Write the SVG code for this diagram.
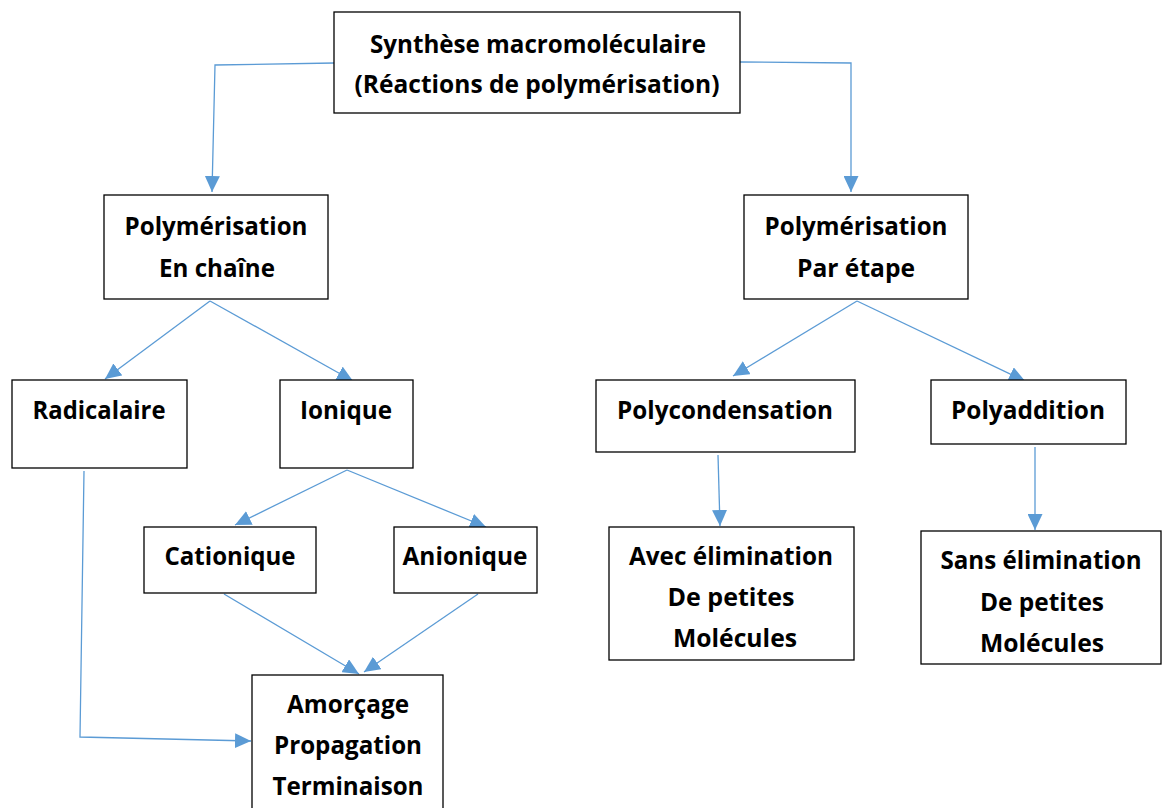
<svg xmlns="http://www.w3.org/2000/svg" width="1165" height="808" viewBox="0 0 1165 808">
<style>
.box{fill:#fff;stroke:#000;stroke-width:1.3}
.t{font-family:"Open Sans","Liberation Sans",sans-serif;font-weight:bold;font-size:24.5px;fill:#000;text-anchor:middle}
.c{fill:none;stroke:#5b9bd5;stroke-width:1.3}
</style>
<defs>
<marker id="ah" markerUnits="userSpaceOnUse" markerWidth="17" markerHeight="15" refX="16" refY="7.5" orient="auto">
<path d="M0,0 L16,7.5 L0,15 z" fill="#5b9bd5"/>
</marker>
</defs>
<rect width="1165" height="808" fill="#fff"/>
<g id="connectors">
<polyline class="c" points="334,63 215,65 212,192" marker-end="url(#ah)"/>
<polyline class="c" points="740,62 851,63 851,192" marker-end="url(#ah)"/>
<line class="c" x1="210" y1="301" x2="105" y2="379" marker-end="url(#ah)"/>
<line class="c" x1="210" y1="301" x2="353" y2="381" marker-end="url(#ah)"/>
<line class="c" x1="347" y1="470" x2="235" y2="525" marker-end="url(#ah)"/>
<line class="c" x1="347" y1="470" x2="486" y2="527" marker-end="url(#ah)"/>
<line class="c" x1="224" y1="594" x2="359" y2="674" marker-end="url(#ah)"/>
<line class="c" x1="478" y1="594" x2="364" y2="672" marker-end="url(#ah)"/>
<polyline class="c" points="84,471 80,737 251,741" marker-end="url(#ah)"/>
<line class="c" x1="857" y1="301" x2="733" y2="376" marker-end="url(#ah)"/>
<line class="c" x1="857" y1="301" x2="1025" y2="381" marker-end="url(#ah)"/>
<line class="c" x1="718" y1="455" x2="720" y2="526" marker-end="url(#ah)"/>
<line class="c" x1="1035" y1="447" x2="1035" y2="530" marker-end="url(#ah)"/>
</g>
<g id="n-synthese">
<rect class="box" x="334" y="12" width="406" height="101"/>
<text class="t" x="538" y="53" textLength="336" lengthAdjust="spacingAndGlyphs">Synthèse macromoléculaire</text>
<text class="t" x="537" y="93" textLength="365" lengthAdjust="spacingAndGlyphs">(Réactions de polymérisation)</text>
</g>
<g id="n-chaine">
<rect class="box" x="104" y="195" width="224" height="104"/>
<text class="t" x="216" y="235" textLength="183" lengthAdjust="spacingAndGlyphs">Polymérisation</text>
<text class="t" x="217" y="277" textLength="116" lengthAdjust="spacingAndGlyphs">En chaîne</text>
</g>
<g id="n-etape">
<rect class="box" x="744" y="195" width="224" height="104"/>
<text class="t" x="856" y="235" textLength="183" lengthAdjust="spacingAndGlyphs">Polymérisation</text>
<text class="t" x="856" y="277" textLength="118" lengthAdjust="spacingAndGlyphs">Par étape</text>
</g>
<g id="n-radicalaire">
<rect class="box" x="12" y="380" width="175" height="88"/>
<text class="t" x="99" y="419" textLength="133" lengthAdjust="spacingAndGlyphs">Radicalaire</text>
</g>
<g id="n-ionique">
<rect class="box" x="280" y="380" width="133" height="88"/>
<text class="t" x="346" y="419" textLength="92" lengthAdjust="spacingAndGlyphs">Ionique</text>
</g>
<g id="n-cationique">
<rect class="box" x="144" y="527" width="172" height="66"/>
<text class="t" x="230" y="565" textLength="131" lengthAdjust="spacingAndGlyphs">Cationique</text>
</g>
<g id="n-anionique">
<rect class="box" x="394" y="527" width="143" height="66"/>
<text class="t" x="465" y="565" textLength="125" lengthAdjust="spacingAndGlyphs">Anionique</text>
</g>
<g id="n-amorcage">
<rect class="box" x="252" y="675" width="191" height="140"/>
<text class="t" x="348" y="713" textLength="122" lengthAdjust="spacingAndGlyphs">Amorçage</text>
<text class="t" x="348" y="754" textLength="148" lengthAdjust="spacingAndGlyphs">Propagation</text>
<text class="t" x="348" y="795" textLength="151" lengthAdjust="spacingAndGlyphs">Terminaison</text>
</g>
<g id="n-polycondensation">
<rect class="box" x="596" y="380" width="259" height="72"/>
<text class="t" x="725" y="419" textLength="216" lengthAdjust="spacingAndGlyphs">Polycondensation</text>
</g>
<g id="n-polyaddition">
<rect class="box" x="931" y="380" width="195" height="64"/>
<text class="t" x="1028" y="419" textLength="154" lengthAdjust="spacingAndGlyphs">Polyaddition</text>
</g>
<g id="n-avec">
<rect class="box" x="609" y="527" width="245" height="133"/>
<text class="t" x="731" y="565" textLength="204" lengthAdjust="spacingAndGlyphs">Avec élimination</text>
<text class="t" x="731" y="606" textLength="127" lengthAdjust="spacingAndGlyphs">De petites</text>
<text class="t" x="735" y="647" textLength="124" lengthAdjust="spacingAndGlyphs">Molécules</text>
</g>
<g id="n-sans">
<rect class="box" x="921" y="531" width="240" height="133"/>
<text class="t" x="1041" y="569" textLength="201" lengthAdjust="spacingAndGlyphs">Sans élimination</text>
<text class="t" x="1042" y="611" textLength="124" lengthAdjust="spacingAndGlyphs">De petites</text>
<text class="t" x="1042" y="652" textLength="124" lengthAdjust="spacingAndGlyphs">Molécules</text>
</g>
</svg>
